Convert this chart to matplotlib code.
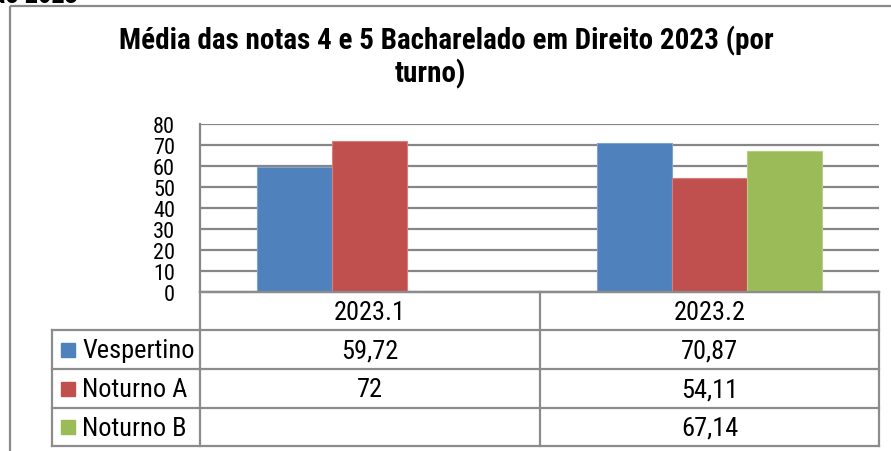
import matplotlib
matplotlib.use("Agg")
import matplotlib.pyplot as plt
from matplotlib.lines import Line2D
from matplotlib.patches import Rectangle

plt.rcParams['font.family'] = ['Roboto Condensed', 'Liberation Sans', 'DejaVu Sans']

# data
categories = ['2023.1', '2023.2']
series = ['Vespertino', 'Noturno A', 'Noturno B']
values = [
    [59.72, 70.87],
    [72, 54.11],
    [None, 67.14],
]
labels = [
    ['59,72', '70,87'],
    ['72', '54,11'],
    ['', '67,14'],
]
colors = ['#4F81BD', '#C0504D', '#9BBB59']
edges = ['#7DA3D6', '#D67F7C', '#B5D17F']
yticks = [0, 10, 20, 30, 40, 50, 60, 70, 80]

W, H = 891, 452
fig = plt.figure(figsize=(W / 100, H / 100), dpi=100)

# plot area (pixel box 200..879 x 125..293)
ax = fig.add_axes([200 / W, 1 - 293 / H, 679 / W, 168 / H])
bw = 75 / 339.5
for i, s in enumerate(series):
    xs = [j + (i - 1) * bw for j in range(len(categories)) if values[i][j] is not None]
    hs = [v for v in values[i] if v is not None]
    ax.bar(xs, hs, width=bw, color=colors[i], edgecolor=edges[i], linewidth=0.8, zorder=3)

ax.set_xlim(-0.5, 1.5)
ax.set_ylim(0, 80)
ax.set_yticks(yticks)
ax.set_yticklabels([str(t) for t in yticks], fontsize=16)
ax.set_xticks([])
ax.tick_params(axis='y', length=0, pad=18)
ax.yaxis.grid(True, color='#868686', linewidth=1.6, zorder=0)
for sp in ['top', 'right']:
    ax.spines[sp].set_visible(False)
for sp in ['left', 'bottom']:
    ax.spines[sp].set_color('#868686')
    ax.spines[sp].set_linewidth(1.6)

# overlay in pixel coordinates for frame, title and data table
ov = fig.add_axes([0, 0, 1, 1], facecolor='none')
ov.set_xlim(0, W)
ov.set_ylim(H, 0)
ov.axis('off')

ov.add_patch(Rectangle((10, 7), W + 20, H + 20, fill=False, edgecolor='#8a8a8a', linewidth=1.6))
ov.text(78, 3, 'ão 2023', fontsize=19, fontweight='bold', ha='right', va='baseline')

ov.text(446, 49, 'Média das notas 4 e 5 Bacharelado em Direito 2023 (por',
        fontsize=21, fontweight='bold', ha='center', va='baseline')
ov.text(430, 82, 'turno)', fontsize=21, fontweight='bold', ha='center', va='baseline')

gc = '#8c8c8c'
lw = 1.6
col_x = [52, 200, 540, 879]
row_y = [293, 331, 370, 409, 447]
# horizontal lines
ov.add_line(Line2D([200, 879], [row_y[0], row_y[0]], color=gc, lw=lw))
for y in row_y[1:]:
    ov.add_line(Line2D([52, 879], [y, y], color=gc, lw=lw))
# vertical lines
ov.add_line(Line2D([200, 200], [293, 447], color=gc, lw=lw))
for x in [540, 879]:
    ov.add_line(Line2D([x, x], [293, 447], color=gc, lw=lw))
ov.add_line(Line2D([52, 52], [331, 447], color=gc, lw=lw))

fs = 19
for j, c in enumerate(categories):
    cx = (col_x[j + 1] + col_x[j + 2]) / 2
    ov.text(cx, (row_y[0] + row_y[1]) / 2 + 1, c, fontsize=fs, ha='center', va='center')
for i, s in enumerate(series):
    cy = (row_y[i + 1] + row_y[i + 2]) / 2 + 1
    ov.add_patch(Rectangle((61, cy - 8), 14, 14, color=colors[i]))
    ov.text(82, cy, s, fontsize=fs, ha='left', va='center')
    for j in range(len(categories)):
        cx = (col_x[j + 1] + col_x[j + 2]) / 2
        ov.text(cx, cy, labels[i][j], fontsize=fs, ha='center', va='center')

fig.savefig('out.png', dpi=100)
